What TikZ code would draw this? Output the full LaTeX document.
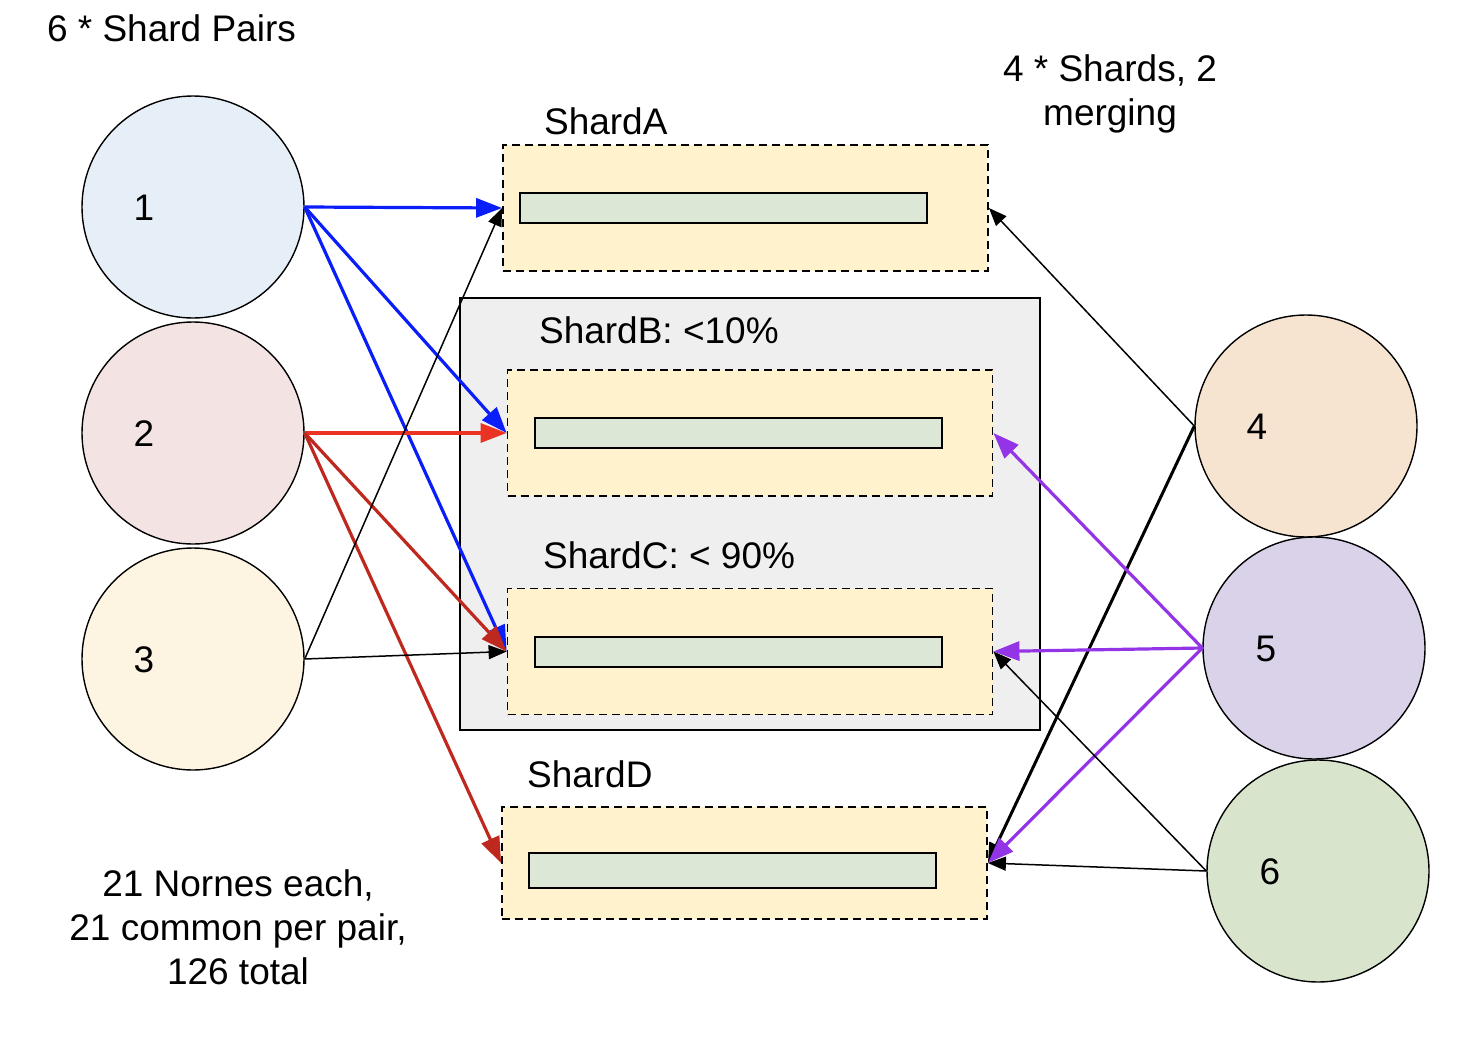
\documentclass[tikz,border=0pt]{standalone}
\usepackage{fontspec}
\setmainfont{Liberation Sans}
\usepackage{xcolor}
\usetikzlibrary{arrows.meta}
\definecolor{pairA}{HTML}{E6EEF8}
\definecolor{pairB}{HTML}{F4E3E3}
\definecolor{pairC}{HTML}{FDF5E2}
\definecolor{pairD}{HTML}{F7E4D0}
\definecolor{pairE}{HTML}{D9D2E9}
\definecolor{pairF}{HTML}{D8E5CC}
\definecolor{shardfill}{HTML}{FFF2CC}
\definecolor{barfill}{HTML}{DCE8D5}
\definecolor{mergefill}{HTML}{EFEFEF}
\definecolor{linkblue}{RGB}{10,30,250}
\definecolor{linkred}{RGB}{234,51,35}
\definecolor{linkdark}{RGB}{190,40,30}
\definecolor{linkpurple}{RGB}{147,52,230}
\tikzset{
    every node/.style={font=\fontsize{18.5}{22}\selectfont},
    pair/.style={draw, circle, minimum size=111pt, inner sep=0pt, line width=0.7pt},
    shard/.style={draw, dash pattern=on 4pt off 2.5pt, fill=shardfill, minimum width=242.5pt, minimum height=63pt, line width=0.9pt},
    bar/.style={draw, fill=barfill, minimum width=203.5pt, minimum height=15pt, line width=1pt},
    big/.style={line width=1.6pt, -{Triangle[length=13pt,width=9.5pt]}},
    thin/.style={line width=0.75pt, -{Triangle[length=9pt,width=7pt]}}
}
\begin{document}
\begin{tikzpicture}[x=0.5pt,y=-0.5pt]
        \useasboundingbox (0,0) rectangle (1470,1054);
        \node[draw, fill=mergefill, line width=0.8pt, minimum width=290pt, minimum height=216pt] (merge) at (750,514) {};

        \node[shard] (sA) at (745.5,208) {};
        \node[shard] (sB) at (750,433) {};
        \node[shard] (sC) at (750,651.5) {};
        \node[shard, minimum height=56pt] (sD) at (744.5,863) {};
        \node[bar] (bA) at (723.5,208) {};
        \node[bar] (bB) at (738,433) {};
        \node[bar] (bC) at (738,651.5) {};
        \node[bar, minimum height=17.5pt] (bD) at (732,870.5) {};

        \node[anchor=base west] (lA) at (537,134) {ShardA};
        \node[anchor=base west] (lB) at (532,343) {ShardB: <10\%};
        \node[anchor=base west] (lC) at (536,568) {ShardC: < 90\%};
        \node[anchor=base west] (lD) at (520,787) {ShardD};

        \node[pair, fill=pairA] (p1) at (193,207) {};
        \node[pair, fill=pairB] (p2) at (193,433) {};
        \node[pair, fill=pairC] (p3) at (193,659) {};
        \node[pair, fill=pairD] (p4) at (1306,426) {};
        \node[pair, fill=pairE] (p5) at (1314,648) {};
        \node[pair, fill=pairF] (p6) at (1318,871) {};
        \node[anchor=base] (n1) at (144,220) {1};
        \node[anchor=base] (n2) at (144,446) {2};
        \node[anchor=base] (n3) at (144,672) {3};
        \node[anchor=base] (n4) at (1257,439) {4};
        \node[anchor=base] (n5) at (1266,661) {5};
        \node[anchor=base] (n6) at (1270,884) {6};

        \node[anchor=base west] (title) at (40,42) {6 * Shard Pairs};
        \node[align=center] (shards) at (1110,93.5) {4 * Shards, 2\\merging};
        \node[align=center] (nornes) at (238,927.5) {21 Nornes each,\\21 common per pair,\\126 total};

        % pair 1
        \draw[big, linkblue] (p1.east) -- (sA.west);
        \draw[big, linkblue] (p1.east) -- (sB.west);
        \draw[big, linkblue] (p1.east) -- (sC.west);
        % pair 2
        \draw[big, linkred] (p2.east) -- (sB.west);
        \draw[big, linkdark] (p2.east) -- (sC.west);
        \draw[big, linkdark] (p2.east) -- (sD.west);
        % pair 3
        \draw[thin] (p3.east) -- (sA.west);
        \draw[thin] (p3.east) -- (sC.west);
        % pair 4
        \draw[thin] (p4.west) -- (sA.east);
        \draw[line width=1.5pt, -{Triangle[length=10pt,width=7.5pt]}] (p4.west) -- (sD.east);
        % pair 5
        \draw[big, linkpurple] (p5.west) -- (sB.east);
        \draw[big, linkpurple] (p5.west) -- (sC.east);
        \draw[big, linkpurple] (p5.west) -- (sD.east);
        % pair 6
        \draw[thin] (p6.west) -- (sC.east);
        \draw[thin] (p6.west) -- (sD.east);
    \end{tikzpicture}
\end{document}
